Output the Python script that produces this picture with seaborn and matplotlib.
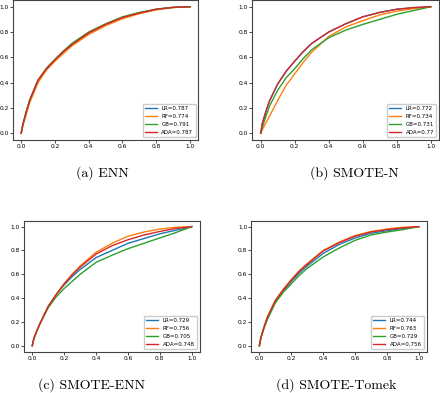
import pandas as pd
import matplotlib
matplotlib.use("Agg")
import matplotlib.pyplot as plt
import seaborn as sns

# ROC curves (false positive rate grid shared by all)
fpr = [0, 0.01, 0.03, 0.05, 0.1, 0.15, 0.2, 0.25, 0.3, 0.4, 0.5, 0.6, 0.7, 0.8, 0.9, 1.0]

models = ["LR", "RF", "GB", "ADA"]
colors = ["tab:blue", "tab:orange", "tab:green", "tab:red"]

# (a) ENN
enn_auc = [0.787, 0.774, 0.791, 0.787]
enn_lr = [0, 0.07, 0.17, 0.26, 0.42, 0.51, 0.58, 0.645, 0.70, 0.79, 0.86, 0.915, 0.95, 0.98, 0.995, 1.0]
enn_rf = [0, 0.06, 0.15, 0.24, 0.40, 0.50, 0.57, 0.63, 0.69, 0.78, 0.85, 0.905, 0.945, 0.975, 0.993, 1.0]
enn_gb = [0, 0.07, 0.17, 0.26, 0.42, 0.515, 0.585, 0.65, 0.71, 0.80, 0.865, 0.92, 0.955, 0.98, 0.995, 1.0]
enn_ada = [0, 0.07, 0.17, 0.26, 0.42, 0.51, 0.58, 0.645, 0.70, 0.795, 0.86, 0.915, 0.95, 0.98, 0.995, 1.0]

# (b) SMOTE-N
smn_auc = [0.772, 0.734, 0.731, 0.77]
smn_lr = [0, 0.08, 0.17, 0.25, 0.39, 0.49, 0.57, 0.645, 0.71, 0.80, 0.865, 0.92, 0.955, 0.98, 0.993, 1.0]
smn_rf = [0, 0.03, 0.08, 0.13, 0.26, 0.38, 0.47, 0.56, 0.64, 0.765, 0.84, 0.89, 0.935, 0.965, 0.985, 1.0]
smn_gb = [0, 0.05, 0.13, 0.21, 0.34, 0.44, 0.51, 0.59, 0.66, 0.755, 0.815, 0.86, 0.90, 0.94, 0.97, 1.0]
smn_ada = [0, 0.08, 0.17, 0.25, 0.39, 0.49, 0.57, 0.645, 0.71, 0.80, 0.865, 0.92, 0.955, 0.98, 0.993, 1.0]

# (c) SMOTE-ENN
sme_auc = [0.729, 0.756, 0.705, 0.748]
sme_lr = [0, 0.06, 0.13, 0.19, 0.33, 0.43, 0.51, 0.58, 0.64, 0.74, 0.80, 0.86, 0.90, 0.94, 0.97, 1.0]
sme_rf = [0, 0.06, 0.13, 0.19, 0.33, 0.43, 0.52, 0.60, 0.67, 0.785, 0.86, 0.92, 0.955, 0.98, 0.995, 1.0]
sme_gb = [0, 0.06, 0.13, 0.19, 0.32, 0.41, 0.48, 0.54, 0.60, 0.70, 0.76, 0.815, 0.86, 0.905, 0.95, 1.0]
sme_ada = [0, 0.06, 0.13, 0.19, 0.33, 0.43, 0.52, 0.595, 0.66, 0.77, 0.84, 0.89, 0.93, 0.96, 0.985, 1.0]

# (d) SMOTE-Tomek
smt_auc = [0.744, 0.763, 0.729, 0.756]
smt_lr = [0, 0.07, 0.16, 0.23, 0.37, 0.46, 0.54, 0.61, 0.67, 0.775, 0.85, 0.905, 0.945, 0.965, 0.985, 1.0]
smt_rf = [0, 0.07, 0.16, 0.24, 0.38, 0.475, 0.555, 0.63, 0.69, 0.80, 0.87, 0.925, 0.96, 0.98, 0.995, 1.0]
smt_gb = [0, 0.07, 0.15, 0.22, 0.36, 0.45, 0.52, 0.59, 0.65, 0.745, 0.82, 0.885, 0.93, 0.955, 0.975, 1.0]
smt_ada = [0, 0.07, 0.16, 0.24, 0.38, 0.47, 0.55, 0.625, 0.685, 0.795, 0.865, 0.92, 0.955, 0.975, 0.99, 1.0]

panels = [
    ("(a) ENN", enn_auc, [enn_lr, enn_rf, enn_gb, enn_ada]),
    ("(b) SMOTE-N", smn_auc, [smn_lr, smn_rf, smn_gb, smn_ada]),
    ("(c) SMOTE-ENN", sme_auc, [sme_lr, sme_rf, sme_gb, sme_ada]),
    ("(d) SMOTE-Tomek", smt_auc, [smt_lr, smt_rf, smt_gb, smt_ada]),
]

# axes boxes and caption positions (figure fractions)
boxes = [
    [0.0290, 0.6448, 0.4220, 0.3542],
    [0.5732, 0.6448, 0.4250, 0.3542],
    [0.0552, 0.1051, 0.3986, 0.3333],
    [0.5714, 0.1051, 0.3984, 0.3333],
]
captions_xy = [(102 / 440, 1 - 173 / 393), (354 / 440, 1 - 173 / 393),
               (92 / 440, 1 - 385 / 393), (336 / 440, 1 - 385 / 393)]

fig = plt.figure(figsize=(4.4, 3.93), dpi=100)

for (caption, aucs, tprs), box, (cx, cy) in zip(panels, boxes, captions_xy):
    ax = fig.add_axes(box)
    rows = []
    for m, auc, tpr in zip(models, aucs, tprs):
        lab = f"{m}={auc}"
        for x, y in zip(fpr, tpr):
            rows.append({"fpr": x, "tpr": y, "model": lab})
    df = pd.DataFrame(rows)
    labels = [f"{m}={a}" for m, a in zip(models, aucs)]
    sns.lineplot(data=df, x="fpr", y="tpr", hue="model", hue_order=labels,
                 palette=colors, linewidth=1.0, ax=ax, sort=False)
    ax.set_xlabel("")
    ax.set_ylabel("")
    ax.set_xticks([0, 0.2, 0.4, 0.6, 0.8, 1.0])
    ax.set_yticks([0, 0.2, 0.4, 0.6, 0.8, 1.0])
    ax.tick_params(labelsize=4.2, length=2, width=0.5, pad=1)
    for s in ax.spines.values():
        s.set_linewidth(0.8)
        s.set_color("#444444")
    ax.legend(loc="lower right", fontsize=4, handlelength=2.2, framealpha=1)
    fig.text(cx, cy, caption, ha="center", va="center", fontsize=10, family="cmr10")

fig.savefig("out.png", dpi=100)
